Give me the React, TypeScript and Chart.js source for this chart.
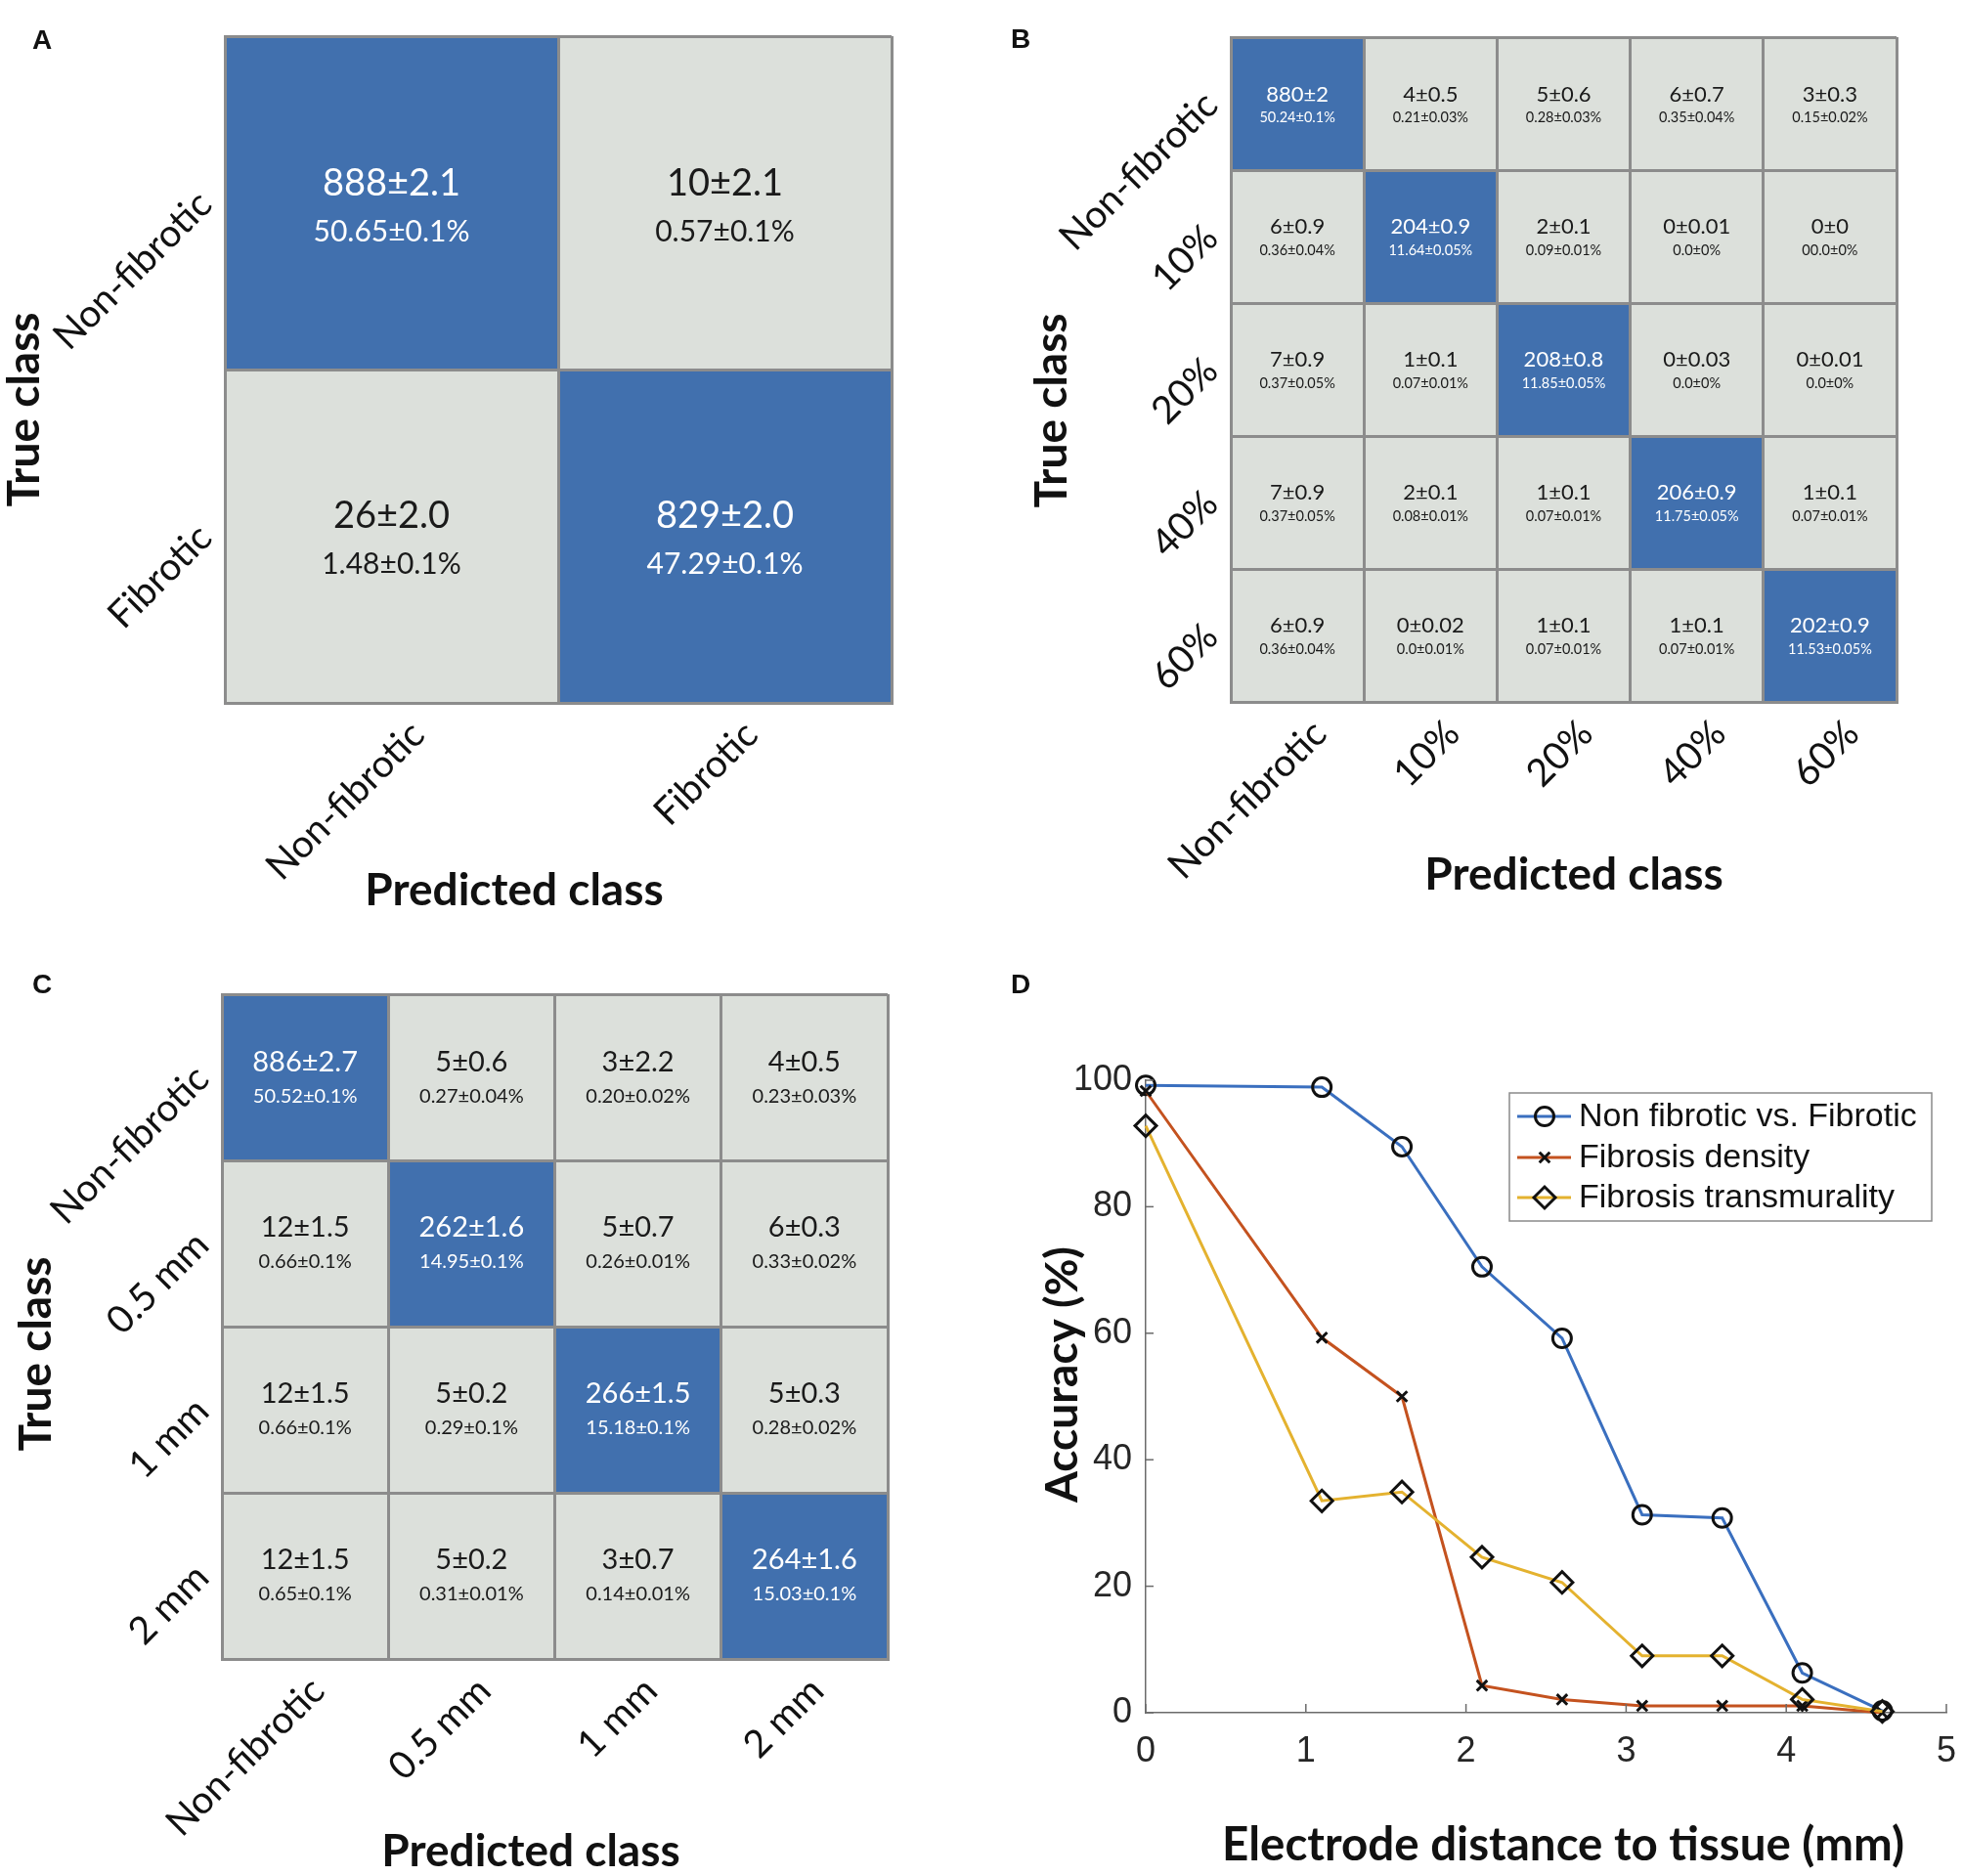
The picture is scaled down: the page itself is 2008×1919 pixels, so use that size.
import React, { useEffect, useRef } from "react";
import { Chart, registerables } from "chart.js";

Chart.register(...registerables);

// ---------------- DATA ----------------
const classesA = ["Non-fibrotic", "Fibrotic"];
const countsA = [
  ["888±2.1", "10±2.1"],
  ["26±2.0", "829±2.0"],
];
const pctA = [
  ["50.65±0.1%", "0.57±0.1%"],
  ["1.48±0.1%", "47.29±0.1%"],
];

const classesB = ["Non-fibrotic", "10%", "20%", "40%", "60%"];
const countsB = [
  ["880±2", "4±0.5", "5±0.6", "6±0.7", "3±0.3"],
  ["6±0.9", "204±0.9", "2±0.1", "0±0.01", "0±0"],
  ["7±0.9", "1±0.1", "208±0.8", "0±0.03", "0±0.01"],
  ["7±0.9", "2±0.1", "1±0.1", "206±0.9", "1±0.1"],
  ["6±0.9", "0±0.02", "1±0.1", "1±0.1", "202±0.9"],
];
const pctB = [
  ["50.24±0.1%", "0.21±0.03%", "0.28±0.03%", "0.35±0.04%", "0.15±0.02%"],
  ["0.36±0.04%", "11.64±0.05%", "0.09±0.01%", "0.0±0%", "00.0±0%"],
  ["0.37±0.05%", "0.07±0.01%", "11.85±0.05%", "0.0±0%", "0.0±0%"],
  ["0.37±0.05%", "0.08±0.01%", "0.07±0.01%", "11.75±0.05%", "0.07±0.01%"],
  ["0.36±0.04%", "0.0±0.01%", "0.07±0.01%", "0.07±0.01%", "11.53±0.05%"],
];

const classesC = ["Non-fibrotic", "0.5 mm", "1 mm", "2 mm"];
const countsC = [
  ["886±2.7", "5±0.6", "3±2.2", "4±0.5"],
  ["12±1.5", "262±1.6", "5±0.7", "6±0.3"],
  ["12±1.5", "5±0.2", "266±1.5", "5±0.3"],
  ["12±1.5", "5±0.2", "3±0.7", "264±1.6"],
];
const pctC = [
  ["50.52±0.1%", "0.27±0.04%", "0.20±0.02%", "0.23±0.03%"],
  ["0.66±0.1%", "14.95±0.1%", "0.26±0.01%", "0.33±0.02%"],
  ["0.66±0.1%", "0.29±0.1%", "15.18±0.1%", "0.28±0.02%"],
  ["0.65±0.1%", "0.31±0.01%", "0.14±0.01%", "15.03±0.1%"],
];

const distances = [0, 1.1, 1.6, 2.1, 2.6, 3.1, 3.6, 4.1, 4.6];
const accNonFibVsFib = [99.2, 98.9, 89.5, 70.5, 59.2, 31.3, 30.8, 6.3, 0.3];
const accDensity = [98.3, 59.3, 50.0, 4.3, 2.1, 1.1, 1.1, 1.1, 0];
const accTransmurality = [92.8, 33.5, 34.9, 24.6, 20.6, 9.0, 9.0, 2.1, 0.2];
const seriesNames = ["Non fibrotic vs. Fibrotic", "Fibrosis density", "Fibrosis transmurality"];

// ---------------- STYLE ----------------
const BLUE = "#4170AE";
const GRAY = "#DCE0DB";
const GRID = "#8C8C8C";
const LINE_BLUE = "#3A6FBF";
const LINE_RED = "#C4521F";
const LINE_YELLOW = "#E4B22F";
const FONT = "Lato";
const SANS = "Liberation Sans";

type MatrixLayout = {
  left: number;
  top: number;
  width: number;
  height: number;
  pad: { left: number; top: number; right: number; bottom: number };
  countFont: number;
  pctFont: number;
  countDy: number;
  pctDy: number;
  xLabelDx: number;
  letter: string;
  letterPos: [number, number];
  yTitlePos: [number, number];
  xTitlePos: [number, number];
};

const layoutA: MatrixLayout = {
  left: 0, top: 0, width: 1004, height: 960,
  pad: { left: 230, top: 37, right: 92, bottom: 241 },
  countFont: 38, pctFont: 30, countDy: -21, pctDy: 29, xLabelDx: 36,
  letter: "A", letterPos: [43, 42],
  yTitlePos: [25, 419], xTitlePos: [526, 911],
};
const layoutB: MatrixLayout = {
  left: 1004, top: 0, width: 1004, height: 960,
  pad: { left: 255, top: 38, right: 68, bottom: 242 },
  countFont: 22, pctFont: 14.5, countDy: -10, pctDy: 14, xLabelDx: 32,
  letter: "B", letterPos: [40, 41],
  yTitlePos: [72, 420], xTitlePos: [606, 895],
};
const layoutC: MatrixLayout = {
  left: 0, top: 960, width: 1004, height: 959,
  pad: { left: 227, top: 57, right: 96, bottom: 222 },
  countFont: 29, pctFont: 20, countDy: -16, pctDy: 19, xLabelDx: 22,
  letter: "C", letterPos: [43, 48],
  yTitlePos: [37, 425], xTitlePos: [543, 934],
};

function drawLetter(ctx: CanvasRenderingContext2D, letter: string, x: number, y: number) {
  ctx.save();
  ctx.fillStyle = "#111";
  ctx.font = `bold 28px "${SANS}"`;
  ctx.textAlign = "center";
  ctx.textBaseline = "middle";
  ctx.fillText(letter, x, y);
  ctx.restore();
}

function drawTitle(ctx: CanvasRenderingContext2D, text: string, x: number, y: number, vertical: boolean, size = 46) {
  ctx.save();
  ctx.fillStyle = "#111";
  ctx.font = `bold ${size}px ${FONT}`;
  ctx.textAlign = "center";
  ctx.textBaseline = "middle";
  ctx.translate(x, y);
  if (vertical) ctx.rotate(-Math.PI / 2);
  ctx.fillText(text, 0, 0);
  ctx.restore();
}

function matrixConfig(classes: string[], counts: string[][], pcts: string[][], L: MatrixLayout): any {
  const n = classes.length;
  const datasets = classes.map((name, r) => ({
    label: name,
    data: classes.map(() => [r, r + 1]),
    backgroundColor: classes.map((_, c) => (c === r ? BLUE : GRAY)),
    borderWidth: 0,
    barPercentage: 1,
    categoryPercentage: 1,
    grouped: false,
  }));
  const textPlugin = {
    id: "matrixText" + L.letter,
    afterDraw(chart: any) {
      const ctx: CanvasRenderingContext2D = chart.ctx;
      const xs = chart.scales.x;
      const ys = chart.scales.y;
      const ca = chart.chartArea;
      ctx.save();
      ctx.textAlign = "center";
      ctx.textBaseline = "middle";
      classes.forEach((_, r) => {
        const meta = chart.getDatasetMeta(r);
        meta.data.forEach((el: any, c: number) => {
          const cx = el.x;
          const cy = (el.y + el.base) / 2;
          const bg = (datasets[r].backgroundColor as string[])[c];
          ctx.fillStyle = bg === BLUE ? "#FFFFFF" : "#1A1A1A";
          ctx.font = `${L.countFont}px ${FONT}`;
          ctx.fillText(counts[r][c], cx, cy + L.countDy);
          ctx.font = `${L.pctFont}px ${FONT}`;
          ctx.fillText(pcts[r][c], cx, cy + L.pctDy);
        });
      });
      ctx.restore();

      ctx.save();
      ctx.fillStyle = "#111";
      ctx.font = `39px ${FONT}`;
      ctx.textAlign = "right";
      ctx.textBaseline = "alphabetic";
      classes.forEach((lab, i) => {
        const y = ys.getPixelForValue(i + 0.5);
        ctx.save();
        ctx.translate(ca.left - 11, y + 4);
        ctx.rotate(-Math.PI / 4);
        ctx.fillText(lab, 0, 0);
        ctx.restore();
        const x = xs.getPixelForValue(i);
        ctx.save();
        ctx.translate(x + L.xLabelDx, ca.bottom + 35);
        ctx.rotate(-Math.PI / 4);
        ctx.fillText(lab, 0, 0);
        ctx.restore();
      });
      ctx.restore();

      drawTitle(ctx, "True class", L.yTitlePos[0], L.yTitlePos[1], true);
      drawTitle(ctx, "Predicted class", L.xTitlePos[0], L.xTitlePos[1], false);
      drawLetter(ctx, L.letter, L.letterPos[0], L.letterPos[1]);
    },
  };
  const gridOpts = { display: true, color: GRID, lineWidth: 3, drawTicks: false, z: 1 };
  const borderOpts = { display: true, color: GRID, width: 3, z: 1 };
  return {
    type: "bar",
    data: { labels: classes, datasets },
    options: {
      responsive: false,
      animation: false,
      devicePixelRatio: 1,
      layout: { padding: L.pad },
      plugins: { legend: { display: false }, tooltip: { enabled: false } },
      scales: {
        x: {
          type: "category",
          offset: true,
          ticks: { display: false },
          grid: { ...gridOpts, offset: true },
          border: borderOpts,
          afterFit: (s: any) => {
            s.height = 0;
            s.paddingLeft = 0;
            s.paddingRight = 0;
          },
        },
        y: {
          type: "linear",
          min: 0,
          max: n,
          reverse: true,
          ticks: { display: false, stepSize: 1 },
          grid: gridOpts,
          border: borderOpts,
          afterFit: (s: any) => {
            s.width = 0;
            s.paddingTop = 0;
            s.paddingBottom = 0;
          },
        },
      },
    },
    plugins: [textPlugin],
  };
}

function drawMarker(ctx: CanvasRenderingContext2D, style: string, x: number, y: number, r: number) {
  ctx.beginPath();
  if (style === "circle") {
    ctx.arc(x, y, r, 0, Math.PI * 2);
  } else if (style === "crossRot") {
    const d = r * Math.SQRT1_2;
    ctx.moveTo(x - d, y - d);
    ctx.lineTo(x + d, y + d);
    ctx.moveTo(x + d, y - d);
    ctx.lineTo(x - d, y + d);
  } else {
    ctx.moveTo(x - r, y);
    ctx.lineTo(x, y - r);
    ctx.lineTo(x + r, y);
    ctx.lineTo(x, y + r);
    ctx.closePath();
  }
  ctx.stroke();
}

function lineConfig(): any {
  const series = [accNonFibVsFib, accDensity, accTransmurality];
  const colors = [LINE_BLUE, LINE_RED, LINE_YELLOW];
  const styles = ["circle", "crossRot", "rectRot"];
  const radii = [9.5, 7.5, 11];
  const datasets = series.map((vals, k) => ({
    label: seriesNames[k],
    data: distances.map((x, i) => ({ x, y: vals[i] })),
    borderColor: colors[k],
    borderWidth: 3,
    pointStyle: styles[k],
    pointRadius: radii[k],
    pointBorderColor: "#111111",
    pointBackgroundColor: "rgba(0,0,0,0)",
    pointBorderWidth: 3,
    tension: 0,
    clip: false,
    order: 2 - k,
  }));
  const extras = {
    id: "lineExtras",
    afterDraw(chart: any) {
      const ctx: CanvasRenderingContext2D = chart.ctx;
      const ca = chart.chartArea;
      const xs = chart.scales.x;
      const ys = chart.scales.y;
      // inward ticks
      ctx.save();
      ctx.strokeStyle = "#6B6B6B";
      ctx.lineWidth = 1.5;
      ys.ticks.forEach((t: any) => {
        const py = ys.getPixelForValue(t.value);
        ctx.beginPath();
        ctx.moveTo(ca.left, py);
        ctx.lineTo(ca.left + 8, py);
        ctx.stroke();
      });
      xs.ticks.forEach((t: any) => {
        const px = xs.getPixelForValue(t.value);
        ctx.beginPath();
        ctx.moveTo(px, ca.bottom);
        ctx.lineTo(px, ca.bottom - 9);
        ctx.stroke();
      });
      ctx.restore();

      // legend
      const bw = 432;
      const bh = 131;
      const bx = ca.right - 15 - bw;
      const by = ca.top + 13;
      ctx.save();
      ctx.fillStyle = "#FFFFFF";
      ctx.fillRect(bx, by, bw, bh);
      ctx.strokeStyle = "#8A8A8A";
      ctx.lineWidth = 1.5;
      ctx.strokeRect(bx, by, bw, bh);
      const rowY = [24, 66, 107];
      datasets.forEach((ds, k) => {
        const y = by + rowY[k];
        ctx.strokeStyle = ds.borderColor;
        ctx.lineWidth = 3;
        ctx.beginPath();
        ctx.moveTo(bx + 8, y);
        ctx.lineTo(bx + 63, y);
        ctx.stroke();
        ctx.strokeStyle = "#111";
        ctx.lineWidth = 3;
        drawMarker(ctx, ds.pointStyle, bx + 36, y, ds.pointRadius);
        ctx.fillStyle = "#111";
        ctx.font = `34px "${SANS}"`;
        ctx.textAlign = "left";
        ctx.textBaseline = "middle";
        ctx.fillText(ds.label, bx + 71, y + 1);
      });
      ctx.restore();

      drawTitle(ctx, "Accuracy (%)", 83, 446, true);
      drawTitle(ctx, "Electrode distance to tissue (mm)", 595, 928, false, 47.5);
      drawLetter(ctx, "D", 40, 48);
    },
  };
  const tickFont = { family: SANS, size: 36 };
  return {
    type: "line",
    data: { datasets },
    options: {
      responsive: false,
      animation: false,
      devicePixelRatio: 1,
      layout: { padding: { top: 145, right: 17, left: 0, bottom: 0 } },
      plugins: { legend: { display: false }, tooltip: { enabled: false } },
      scales: {
        x: {
          type: "linear",
          min: 0,
          max: 5,
          ticks: { stepSize: 1, font: tickFont, color: "#262626", padding: 18 },
          grid: { display: false, drawTicks: false },
          border: { display: true, color: "#6B6B6B", width: 1.5 },
          afterFit: (s: any) => {
            s.height = 167;
            s.paddingLeft = 0;
            s.paddingRight = 0;
          },
        },
        y: {
          type: "linear",
          min: 0,
          max: 100,
          ticks: { stepSize: 20, font: tickFont, color: "#262626", padding: 14 },
          grid: { display: false, drawTicks: false },
          border: { display: true, color: "#6B6B6B", width: 1.5 },
          afterFit: (s: any) => {
            s.width = 168;
            s.paddingTop = 0;
            s.paddingBottom = 0;
          },
        },
      },
    },
    plugins: [extras],
  };
}

export default function App() {
  const refA = useRef<HTMLCanvasElement>(null);
  const refB = useRef<HTMLCanvasElement>(null);
  const refC = useRef<HTMLCanvasElement>(null);
  const refD = useRef<HTMLCanvasElement>(null);

  useEffect(() => {
    const charts: Chart[] = [];
    if (refA.current) charts.push(new Chart(refA.current, matrixConfig(classesA, countsA, pctA, layoutA)));
    if (refB.current) charts.push(new Chart(refB.current, matrixConfig(classesB, countsB, pctB, layoutB)));
    if (refC.current) charts.push(new Chart(refC.current, matrixConfig(classesC, countsC, pctC, layoutC)));
    if (refD.current) charts.push(new Chart(refD.current, lineConfig()));
    return () => {
      charts.forEach((c) => c.destroy());
    };
  }, []);

  const box = (left: number, top: number, w: number, h: number): React.CSSProperties => ({
    position: "absolute",
    left,
    top,
    width: w,
    height: h,
  });

  return (
    <div style={{ position: "absolute", left: 0, top: 0, width: 2008, height: 1919, background: "#FFFFFF", overflow: "hidden" }}>
      <div style={box(layoutA.left, layoutA.top, layoutA.width, layoutA.height)}>
        <canvas ref={refA} width={layoutA.width} height={layoutA.height} style={{ display: "block" }} />
      </div>
      <div style={box(layoutB.left, layoutB.top, layoutB.width, layoutB.height)}>
        <canvas ref={refB} width={layoutB.width} height={layoutB.height} style={{ display: "block" }} />
      </div>
      <div style={box(layoutC.left, layoutC.top, layoutC.width, layoutC.height)}>
        <canvas ref={refC} width={layoutC.width} height={layoutC.height} style={{ display: "block" }} />
      </div>
      <div style={box(1004, 960, 1004, 959)}>
        <canvas ref={refD} width={1004} height={959} style={{ display: "block" }} />
      </div>
    </div>
  );
}
